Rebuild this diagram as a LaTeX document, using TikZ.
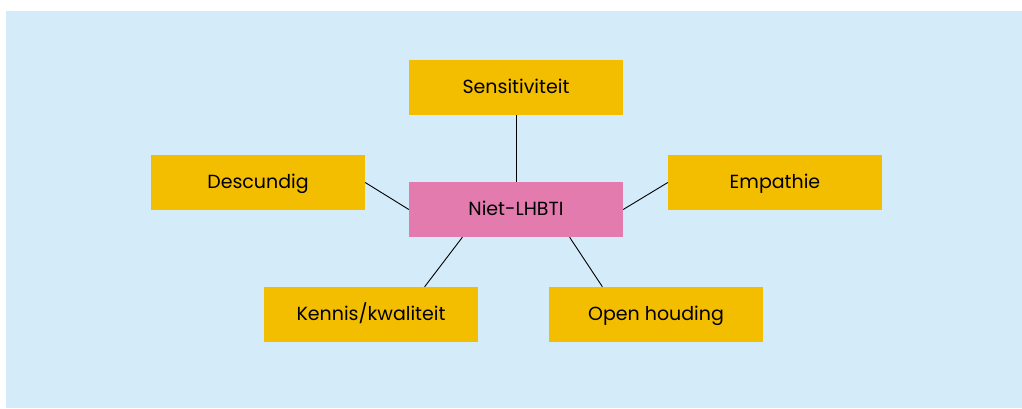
\documentclass[tikz,border=0pt]{standalone}
\usepackage{fontspec}
\setmainfont{Poppins}
\usetikzlibrary{calc}
\definecolor{bgblue}{HTML}{D4EBF9}
\definecolor{boxyellow}{HTML}{F3BE00}
\definecolor{boxpink}{HTML}{E47BAE}
\begin{document}
\begin{tikzpicture}[x=1pt,y=-1pt,
  box/.style={fill=boxyellow,minimum width=214pt,minimum height=55pt,inner sep=0pt,
    font=\fontsize{19}{22}\selectfont,text=black,text height=1.2em,text depth=0pt},
  hub/.style={box,fill=boxpink},
  link/.style={draw=black,line width=0.9pt}]
\useasboundingbox (0,0) rectangle (1022,408);
\fill[bgblue] (6,11) rectangle (1022,408);
\node[hub] (c) at (516,209.5) {Niet-LHBTI};
\node[box] (s) at (516,87.5) {Sensitiviteit};
\node[box] (d) at (258,182.5) {Descundig};
\node[box] (e) at (775,182.5) {Empathie};
\node[box] (k) at (371,314.5) {Kennis/kwaliteit};
\node[box] (o) at (656,314.5) {Open houding};
\draw[link] (c.north) -- (s.south);
\draw[link] (c.west) -- (d.east);
\draw[link] (c.east) -- (e.west);
\draw[link] ($(c.south west)!0.25!(c.south east)$) -- ($(k.north west)!0.75!(k.north east)$);
\draw[link] ($(c.south west)!0.75!(c.south east)$) -- ($(o.north west)!0.25!(o.north east)$);
\end{tikzpicture}
\end{document}
